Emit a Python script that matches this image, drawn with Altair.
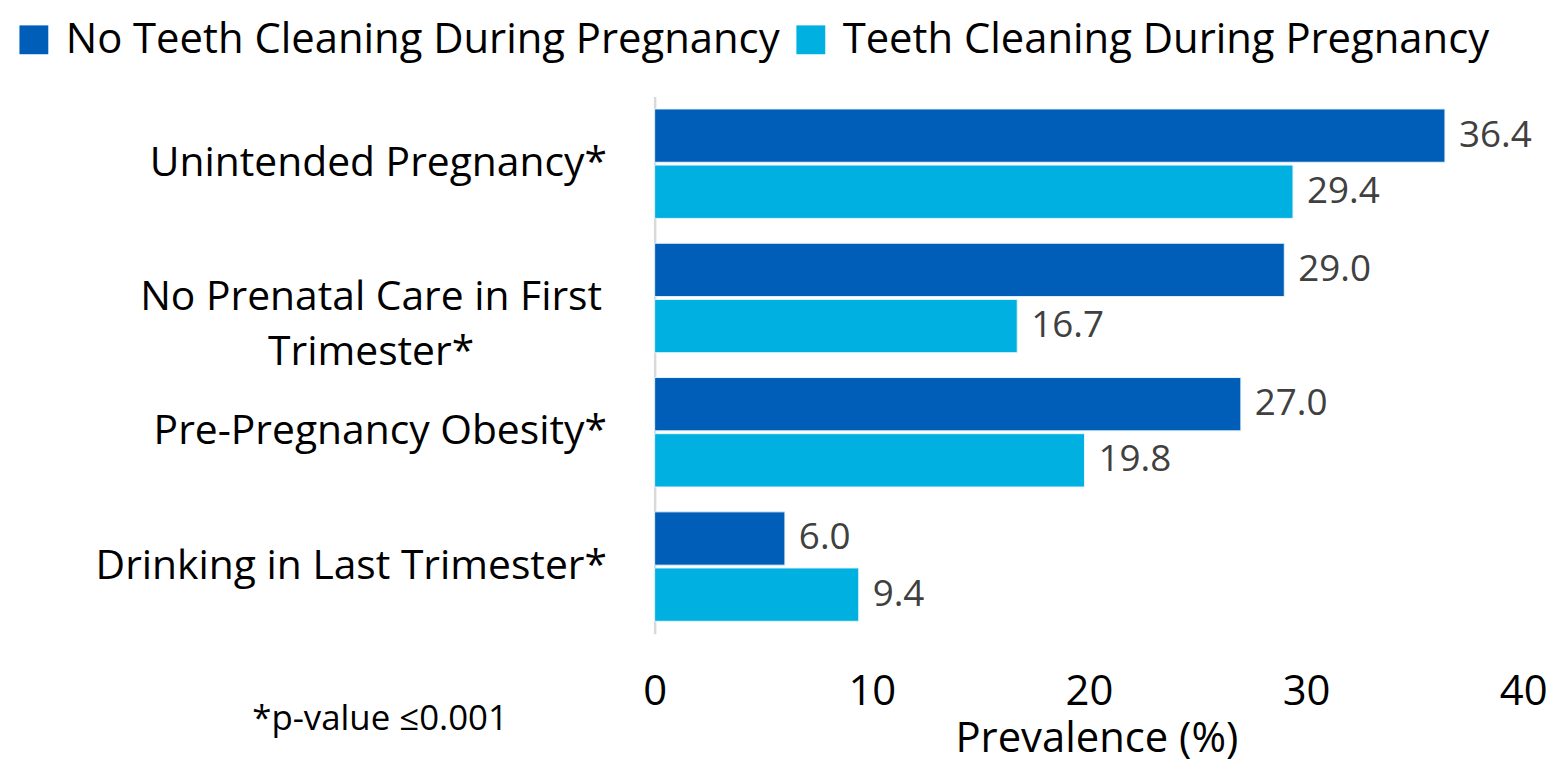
import altair as alt
import pandas as pd

categories = [
    "Unintended Pregnancy*",
    "No Prenatal Care in First Trimester*",
    "Pre-Pregnancy Obesity*",
    "Drinking in Last Trimester*",
]
display_labels = [
    "Unintended Pregnancy*",
    "No Prenatal Care in First|Trimester*",
    "Pre-Pregnancy Obesity*",
    "Drinking in Last Trimester*",
]
series_names = ["No Teeth Cleaning During Pregnancy", "Teeth Cleaning During Pregnancy"]
no_cleaning = [36.4, 29.0, 27.0, 6.0]
cleaning = [29.4, 16.7, 19.8, 9.4]
x_ticks = [0, 10, 20, 30, 40]
note_text = ["*p-value \u22640.001"]

colors = ["#005EB8", "#00B0E0"]
FONT = "Open Sans"

rows = []
for c, v in zip(categories, no_cleaning):
    rows.append({"cat": c, "series": series_names[0], "value": v})
for c, v in zip(categories, cleaning):
    rows.append({"cat": c, "series": series_names[1], "value": v})
df = pd.DataFrame(rows)
df["label"] = df["value"].map(lambda v: f"{v:.1f}")

lab_df = pd.DataFrame({"cat": categories, "disp": display_labels})
lab_df["multi"] = lab_df["disp"].str.contains(r"\|")
note_df = pd.DataFrame({"t": note_text})

y_enc = alt.Y(
    "cat:N",
    sort=categories,
    scale=alt.Scale(paddingInner=0.185, paddingOuter=0.0926),
    axis=alt.Axis(title=None, labels=False, ticks=False, domain=True,
                  domainColor="#d9d9d9", domainWidth=2.5, grid=False),
)
x_enc = alt.X(
    "value:Q",
    scale=alt.Scale(domain=[0, 40], nice=False, zero=True),
    axis=alt.Axis(values=x_ticks, title="Prevalence (%)", grid=False, ticks=False,
                  domain=False, labelFontSize=42, labelFont=FONT, labelColor="#000000",
                  labelPadding=38, titleFontSize=42, titleFont=FONT,
                  titleFontWeight="normal", titleColor="#000000", titlePadding=6,
                  titleX=444, titleAlign="center", titleAnchor="start",
                  labelFlush=False),
)
yoff = alt.YOffset("series:N", sort=series_names,
                   scale=alt.Scale(paddingInner=0.05, paddingOuter=0))

base = alt.Chart(df)

bars = base.mark_bar(stroke="#e6f4fb", strokeWidth=1).encode(
    x=x_enc,
    y=y_enc,
    yOffset=yoff,
    color=alt.Color(
        "series:N",
        sort=series_names,
        scale=alt.Scale(domain=series_names, range=colors),
        legend=alt.Legend(
            title=None, orient="none", legendX=-645, legendY=-78,
            direction="horizontal", symbolType="square", symbolSize=841,
            symbolStrokeWidth=0, labelFontSize=42, labelFont=FONT,
            labelColor="#000000", labelLimit=1000, columnPadding=10, labelOffset=11,
        ),
    ),
)

values = base.mark_text(align="left", baseline="middle", dx=14, fontSize=37,
                        font=FONT, color="#404040").encode(
    x="value:Q", y=alt.Y("cat:N", sort=categories), yOffset=yoff, text="label:N"
)

single_labels = alt.Chart(lab_df).transform_filter("!datum.multi").mark_text(
    align="right", baseline="middle", fontSize=41, font=FONT, color="#000000"
).encode(y=alt.Y("cat:N", sort=categories), x=alt.value(-48), text="disp:N")

multi_labels = alt.Chart(lab_df).transform_filter("datum.multi").mark_text(
    align="center", baseline="middle", fontSize=41, font=FONT, color="#000000",
    lineBreak="|", lineHeight=55,
).encode(y=alt.Y("cat:N", sort=categories), x=alt.value(-285), text="disp:N")

note = alt.Chart(note_df).mark_text(
    align="center", baseline="middle", fontSize=35, font=FONT, color="#000000"
).encode(x=alt.value(-276), y=alt.value(626), text="t:N")

chart = alt.layer(bars, values, single_labels, multi_labels, note).properties(
    width=873, height=540,
    autosize=alt.AutoSizeParams(type="none"),
    padding={"left": 650, "top": 87, "right": 24, "bottom": 134},
).configure(background="white").configure_view(stroke=None)

chart.save("out.html", embed_options={"renderer": "svg", "actions": False})
